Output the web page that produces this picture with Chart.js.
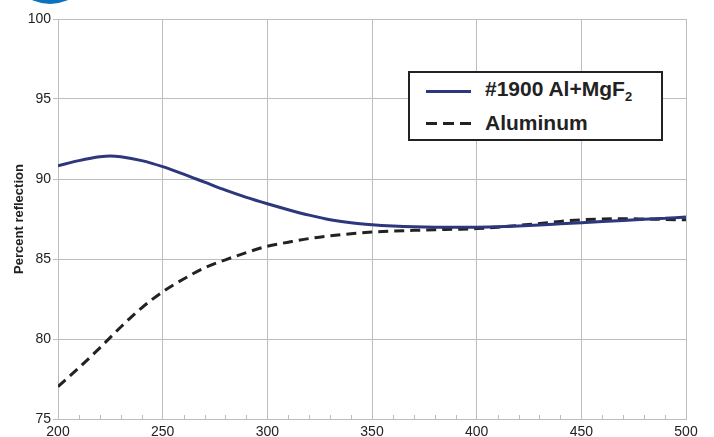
<!DOCTYPE html>
<html>
<head>
<meta charset="utf-8">
<script src="https://cdn.jsdelivr.net/npm/chart.js@4"></script>
<style>
  html, body { margin: 0; padding: 0; background: #fff; }
  #wrap { position: relative; width: 714px; height: 437px; }
  #legend {
    position: absolute; left: 408px; top: 71px; width: 251px; height: 66px;
    border: 2px solid #222; background: #fff;
    font-family: "Liberation Sans", Arial, sans-serif; font-weight: bold; font-size: 21px; color: #222;
  }
  #legend .row { position: absolute; left: 0; height: 26px; display: flex; align-items: center; }
  #legend .swatch { width: 45px; height: 3px; margin-left: 16px; margin-right: 14px; }
  #legend sub { font-size: 13px; }
</style>
</head>
<body>
<div id="wrap">
  <canvas id="chart" width="714" height="437"></canvas>
  <div id="legend"></div>
</div>
<script>
const wavelengths = [200, 210, 220, 225, 230, 240, 250, 260, 270, 280, 290, 300, 310, 320, 330, 340, 350,
  360, 370, 380, 390, 400, 410, 420, 430, 440, 450, 460, 470, 480, 490, 500];

const coated = [90.83, 91.15, 91.39, 91.44, 91.39, 91.15, 90.77, 90.3, 89.8, 89.3, 88.85, 88.45, 88.08,
  87.74, 87.45, 87.26, 87.14, 87.06, 87.01, 86.99, 86.99, 86.99, 87.02, 87.07, 87.13, 87.2, 87.27,
  87.34, 87.41, 87.48, 87.55, 87.62];

const aluminum = [77.03, 78.2, 79.45, 80.1, 80.75, 81.95, 82.95, 83.75, 84.45, 84.95, 85.4, 85.8, 86.05,
  86.28, 86.45, 86.58, 86.68, 86.74, 86.79, 86.83, 86.86, 86.9, 86.98, 87.1, 87.22, 87.35, 87.45,
  87.5, 87.52, 87.5, 87.47, 87.45];

const seriesNames = ["#1900 Al+MgF2", "Aluminum"];
const yTitle = "Percent reflection";

const gridColor = "#bdbdbd";
const labelFont = { family: "'Liberation Sans', Arial, sans-serif", size: 14 };

// little upward ticks every 10 nm on the bottom axis, plus the blue logo corner
const decor = {
  id: "decor",
  beforeDraw(chart) {
    const c = chart.ctx;
    c.save();
    c.fillStyle = "#0b73bd";
    c.beginPath();
    c.arc(50, -38, 42, 0, Math.PI * 2);
    c.fill();
    c.restore();
  },
  afterDatasetsDraw(chart) {
    const c = chart.ctx;
    const xs = chart.scales.x;
    const bottom = chart.chartArea.bottom;
    c.save();
    c.strokeStyle = gridColor;
    c.lineWidth = 1;
    for (let v = 210; v < 500; v += 10) {
      if (v % 50 === 0) continue;
      const px = Math.round(xs.getPixelForValue(v)) + 0.5;
      c.beginPath();
      c.moveTo(px, bottom);
      c.lineTo(px, bottom - 4);
      c.stroke();
    }
    c.restore();
  }
};

const chart = new Chart(document.getElementById("chart"), {
  type: "line",
  data: {
    labels: wavelengths,
    datasets: [
      {
        label: seriesNames[0],
        data: wavelengths.map((w, i) => ({ x: w, y: coated[i] })),
        borderColor: "#2c377c",
        borderWidth: 3,
        pointRadius: 0,
        cubicInterpolationMode: "monotone"
      },
      {
        label: seriesNames[1],
        data: wavelengths.map((w, i) => ({ x: w, y: aluminum[i] })),
        borderColor: "#222222",
        borderWidth: 3,
        borderDash: [10, 6],
        pointRadius: 0,
        cubicInterpolationMode: "monotone"
      }
    ]
  },
  options: {
    responsive: false,
    animation: false,
    layout: { padding: { top: 19, right: 28, left: 0, bottom: 0 } },
    plugins: { legend: { display: false }, tooltip: { enabled: false } },
    scales: {
      x: {
        type: "linear",
        min: 200,
        max: 500,
        ticks: {
          stepSize: 50,
          color: "#222",
          font: labelFont,
          padding: 5,
          maxRotation: 0
        },
        grid: { color: gridColor, drawTicks: false },
        border: { color: gridColor },
        afterFit(scale) { scale.height = 18; }
      },
      y: {
        min: 75,
        max: 100,
        ticks: { stepSize: 5, color: "#222", font: labelFont, padding: 2 },
        grid: { color: gridColor, tickLength: 5 },
        border: { color: gridColor },
        title: {
          display: true,
          text: yTitle,
          color: "#222",
          font: { family: "'Liberation Sans', Arial, sans-serif", size: 13, weight: "bold" },
          padding: { top: 12, bottom: 0 }
        },
        afterFit(scale) { scale.width = 58; }
      }
    }
  },
  plugins: [decor]
});

// boxed legend built from the datasets
const legend = document.getElementById("legend");
chart.data.datasets.forEach((ds, i) => {
  const row = document.createElement("div");
  row.className = "row";
  row.style.top = (i === 0 ? 5 : 37) + "px";
  const sw = document.createElement("span");
  sw.className = "swatch";
  sw.style.background = ds.borderDash
    ? "repeating-linear-gradient(to right, " + ds.borderColor + " 0 11px, transparent 11px 17px)"
    : ds.borderColor;
  const txt = document.createElement("span");
  txt.innerHTML = ds.label.replace(/F2$/, "F<sub>2</sub>");
  row.appendChild(sw);
  row.appendChild(txt);
  legend.appendChild(row);
});
</script>
</body>
</html>
